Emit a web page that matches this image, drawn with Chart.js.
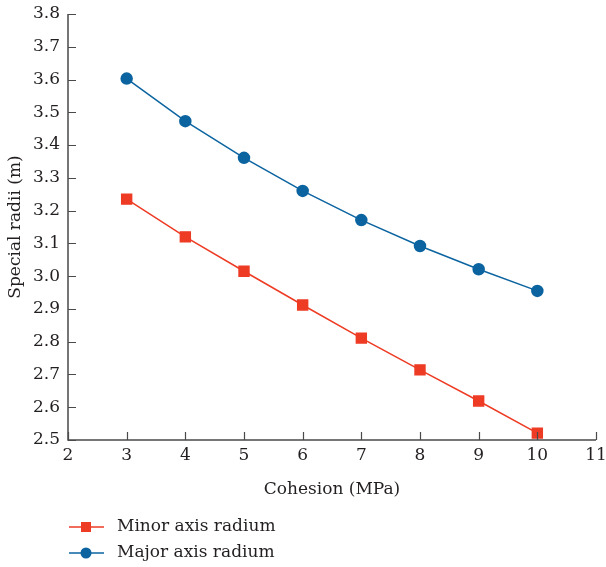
<!DOCTYPE html>
<html>
<head>
<meta charset="utf-8">
<script src="https://cdn.jsdelivr.net/npm/chart.js@4/dist/chart.umd.min.js"></script>
<style>
html,body{margin:0;padding:0;background:#fff;}
#wrap{width:606px;height:567px;position:relative;}
</style>
</head>
<body>
<div id="wrap"><canvas id="c" width="606" height="567"></canvas></div>
<script>
const cohesion = [3, 4, 5, 6, 7, 8, 9, 10];
const minorAxis = [3.235, 3.12, 3.015, 2.912, 2.811, 2.714, 2.619, 2.521];
const majorAxis = [3.603, 3.473, 3.361, 3.26, 3.171, 3.092, 3.021, 2.955];
const seriesNames = ['Minor axis radium', 'Major axis radium'];
const xTitle = 'Cohesion (MPa)';
const yTitle = 'Special radii (m)';

const RED = '#ee3b24';
const BLUE = '#0b64a0';
const AXIS = '#4a4a4a';
const TEXT = '#231f20';
const FONT = "'DejaVu Serif', 'Liberation Serif', serif";

const toPts = (xs, ys) => xs.map((x, i) => ({x: x, y: ys[i]}));

const tickPlugin = {
  id: 'inwardTicks',
  afterDatasetsDraw(chart) {
    const ctx = chart.ctx;
    const xs = chart.scales.x, ys = chart.scales.y;
    const a = chart.chartArea;
    ctx.save();
    ctx.strokeStyle = AXIS;
    ctx.lineWidth = 1.5;
    ctx.beginPath();
    ctx.moveTo(a.left, a.top);
    ctx.lineTo(a.left, a.bottom);
    ctx.lineTo(a.right, a.bottom);
    ctx.stroke();
    ctx.lineWidth = 1.2;
    ctx.beginPath();
    xs.ticks.forEach(t => {
      const p = Math.round(xs.getPixelForValue(t.value)) + 0.5;
      ctx.moveTo(p, a.bottom);
      ctx.lineTo(p, a.bottom - 8);
    });
    ys.ticks.forEach(t => {
      const p = Math.round(ys.getPixelForValue(t.value)) + 0.5;
      ctx.moveTo(a.left, p);
      ctx.lineTo(a.left + 8, p);
    });
    ctx.stroke();
    ctx.restore();
  },
  afterDraw(chart) {
    const ctx = chart.ctx;
    ctx.save();
    const items = [
      {label: chart.data.datasets[0].label, color: RED, style: 'rect', y: 527},
      {label: chart.data.datasets[1].label, color: BLUE, style: 'circle', y: 553}
    ];
    items.forEach(it => {
      ctx.strokeStyle = it.color;
      ctx.fillStyle = it.color;
      ctx.lineWidth = 1.5;
      ctx.beginPath();
      ctx.moveTo(69, it.y);
      ctx.lineTo(104, it.y);
      ctx.stroke();
      if (it.style === 'rect') {
        ctx.fillRect(81, it.y - 5, 10, 10);
      } else {
        ctx.beginPath();
        ctx.arc(86, it.y, 5.5, 0, Math.PI * 2);
        ctx.fill();
      }
      ctx.fillStyle = TEXT;
      ctx.font = '17px ' + FONT;
      ctx.textBaseline = 'middle';
      ctx.textAlign = 'left';
      ctx.fillText(it.label, 117, it.y);
    });
    ctx.restore();
  }
};

new Chart(document.getElementById('c'), {
  type: 'line',
  data: {
    datasets: [
      {
        label: seriesNames[0],
        data: toPts(cohesion, minorAxis),
        borderColor: RED,
        backgroundColor: RED,
        borderWidth: 1.5,
        pointStyle: 'rect',
        pointRadius: 7,
        pointHoverRadius: 7,
        tension: 0
      },
      {
        label: seriesNames[1],
        data: toPts(cohesion, majorAxis),
        borderColor: BLUE,
        backgroundColor: BLUE,
        borderWidth: 1.5,
        pointStyle: 'circle',
        pointRadius: 5.5,
        pointHoverRadius: 5.5,
        tension: 0
      }
    ]
  },
  options: {
    responsive: false,
    animation: false,
    layout: {padding: {left: 5, right: 0, top: 0, bottom: 67}},
    plugins: {legend: {display: false}, tooltip: {enabled: false}},
    scales: {
      x: {
        type: 'linear',
        min: 2, max: 11,
        ticks: {stepSize: 1, color: TEXT, font: {family: FONT, size: 17}, padding: 5, maxRotation: 0},
        grid: {display: false, drawTicks: false},
        border: {display: false},
        title: {display: true, text: xTitle, color: TEXT, font: {family: FONT, size: 17}, padding: {top: 9, bottom: 0}},
        afterFit(s) { s.height = 60; s.paddingRight = 10; }
      },
      y: {
        type: 'linear',
        min: 2.5, max: 3.8,
        ticks: {stepSize: 0.1, color: TEXT, font: {family: FONT, size: 17}, padding: 8,
          callback: v => Number(v).toFixed(1)},
        grid: {display: false, drawTicks: false},
        border: {display: false},
        title: {display: true, text: yTitle, color: TEXT, font: {family: FONT, size: 17}, padding: {top: 0, bottom: 4}},
        afterFit(s) { s.width = 63; s.paddingTop = 14; }
      }
    }
  },
  plugins: [tickPlugin]
});
</script>
</body>
</html>
